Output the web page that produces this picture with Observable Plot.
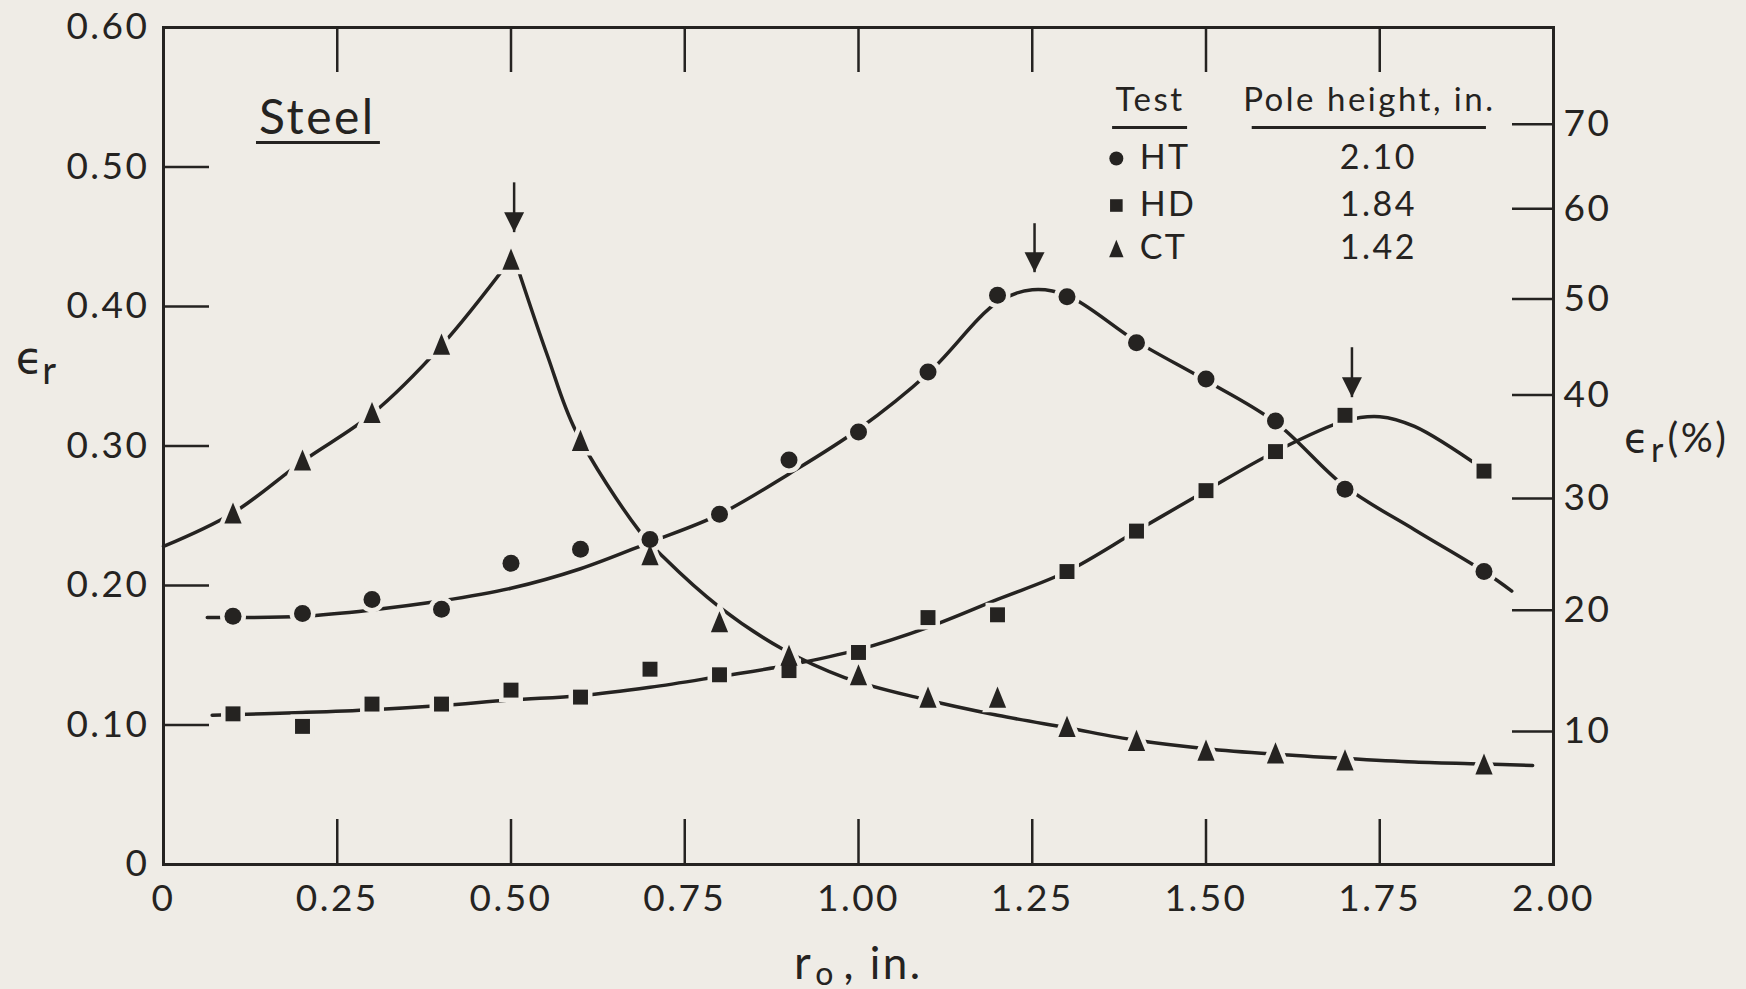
<!DOCTYPE html>
<html><head><meta charset="utf-8">
<script src="https://cdn.jsdelivr.net/npm/d3@7"></script>
<script src="https://cdn.jsdelivr.net/npm/@observablehq/plot@0.6"></script>
<style>
html,body{margin:0;padding:0;background:#efece6;}
#chart svg text{letter-spacing:2.5px;}
</style></head><body><div id="chart"></div>
<script>
// ---- measured points (r_o in inches, true strain eps_r) ----
const rPts = [0.1,0.2,0.3,0.4,0.5,0.6,0.7,0.8,0.9,1.0,1.1,1.2,1.3,1.4,1.5,1.6,1.7,1.9];
const htPts = [0.178,0.180,0.190,0.183,0.216,0.226,0.233,0.251,0.290,0.310,0.353,0.408,0.407,0.374,0.348,0.318,0.269,0.210];
const hdPts = [0.108,0.099,0.115,0.115,0.125,0.120,0.140,0.136,0.139,0.152,0.177,0.179,0.210,0.239,0.268,0.296,0.322,0.282];
const ctPts = [0.252,0.290,0.324,0.373,0.434,0.304,0.222,0.174,0.150,0.136,0.120,0.120,0.099,0.089,0.082,0.080,0.075,0.072];

// ---- faired curves ----
const htCurveR = [0.063,0.2,0.3,0.4,0.5,0.6,0.7,0.8,0.9,1.0,1.1,1.2,1.25,1.3,1.4,1.5,1.6,1.7,1.8,1.9,1.94];
const htCurveE = [0.177,0.178,0.1825,0.189,0.198,0.212,0.231,0.251,0.280,0.312,0.352,0.403,0.412,0.408,0.375,0.347,0.317,0.271,0.240,0.210,0.196];
const hdCurveR = [0.07,0.2,0.3,0.4,0.5,0.6,0.7,0.8,0.9,1.0,1.1,1.2,1.3,1.4,1.5,1.6,1.7,1.75,1.8,1.9];
const hdCurveE = [0.107,0.109,0.111,0.114,0.118,0.121,0.127,0.1348,0.143,0.154,0.170,0.190,0.210,0.239,0.268,0.296,0.318,0.321,0.314,0.283];
const ctLeftR = [0,0.1,0.2,0.3,0.4,0.5];
const ctLeftE = [0.228,0.252,0.289,0.323,0.372,0.434];
const ctRightR = [0.503,0.514,0.553,0.593,0.684,0.72,0.8,0.89,0.98,1.09,1.2,1.3,1.4,1.5,1.6,1.7,1.8,1.9,1.97];
const ctRightE = [0.438,0.421,0.364,0.311,0.2395,0.220,0.1845,0.1546,0.134,0.119,0.107,0.098,0.089,0.083,0.079,0.076,0.0735,0.072,0.071];

// ---- peak arrows ----
const peakR = [0.5045,1.2533,1.71];
const peakTop = [0.489,0.4597,0.3708];
const peakTip = [0.4533,0.4246,0.335];

// ---- ticks / labels ----
const xTickValues = [0,0.25,0.5,0.75,1.0,1.25,1.5,1.75,2.0];
const xTickLabels = ["0","0.25","0.50","0.75","1.00","1.25","1.50","1.75","2.00"];
const xInnerTicks = [0.25,0.5,0.75,1.0,1.25,1.5,1.75];
const yTickValues = [0,0.1,0.2,0.3,0.4,0.5,0.6];
const yTickLabels = ["0","0.10","0.20","0.30","0.40","0.50","0.60"];
const yInnerTicks = [0.1,0.2,0.3,0.4,0.5];
const pctTicks = [10,20,30,40,50,60,70];

// ---- legend ----
const legendTests = ["HT","HD","CT"];
const legendHeights = ["2.10","1.84","1.42"];

const ink = "#252321", bg = "#efece6";
const font = "Lato, 'DejaVu Sans', sans-serif";

const zipPts = (r, e) => r.map((d, i) => ({r: d, e: e[i]}));
const ht = zipPts(rPts, htPts), hd = zipPts(rPts, hdPts), ct = zipPts(rPts, ctPts);
const htC = zipPts(htCurveR, htCurveE), hdC = zipPts(hdCurveR, hdCurveE);
const ctL = zipPts(ctLeftR, ctLeftE), ctR = zipPts(ctRightR, ctRightE);
const peaks = peakR.map((r, i) => ({r, top: peakTop[i], tip: peakTip[i]}));
const pctPos = pctTicks.map(p => Math.log(1 + p / 100));

const triUp = {draw(c, size) { const r = Math.sqrt(size / Math.PI); const w = r * 1.8, h = r * 2.2; c.moveTo(0, -h / 2); c.lineTo(w / 2, h / 2); c.lineTo(-w / 2, h / 2); c.closePath(); }};
const square = {draw(c, size) { const r = Math.sqrt(size / Math.PI); const s = r * 1.8; c.rect(-s / 2, -s / 2, s, s); }};
const triDown = {draw(c, size) { const r = Math.sqrt(size / Math.PI); c.moveTo(0, 0); c.lineTo(r, -2 * r); c.lineTo(-r, -2 * r); c.closePath(); }};

const W = 1746, H = 989, ML = 163, MR = 193, MT = 27, MB = 125;
const FW = W - ML - MR, FH = H - MT - MB;

const halo = (data, symbol, r) => Plot.dot(data, {x: "r", y: "e", symbol, r, fill: bg, stroke: bg, strokeWidth: 9});
const solid = (data, symbol, r) => Plot.dot(data, {x: "r", y: "e", symbol, r, fill: ink, stroke: "none"});
const eps = "\u03f5";
const rowY = [0.5061, 0.4724, 0.4416];

const chart = Plot.plot({
  width: W, height: H,
  marginLeft: ML, marginRight: MR, marginTop: MT, marginBottom: MB,
  x: {domain: [0, 2]},
  y: {domain: [0, 0.6]},
  style: {background: bg, color: ink, fontFamily: font, fontWeight: 400, overflow: "visible"},
  marks: [
    Plot.frame({stroke: ink, strokeWidth: 3}),
    // inward ticks
    Plot.tickX(xInnerTicks, {insetTop: FH - 45, stroke: ink, strokeWidth: 2.5}),
    Plot.tickX(xInnerTicks, {insetBottom: FH - 45, stroke: ink, strokeWidth: 2.5}),
    Plot.tickY(yInnerTicks, {insetRight: FW - 46, stroke: ink, strokeWidth: 2.5}),
    Plot.tickY(pctPos, {insetLeft: FW - 41, stroke: ink, strokeWidth: 2.5}),
    // tick labels
    Plot.axisX({anchor: "bottom", ticks: xTickValues, tickFormat: d => xTickLabels[xTickValues.indexOf(d)], tickSize: 0, tickPadding: 20, fontSize: 37, label: null}),
    Plot.axisY({anchor: "left", ticks: yTickValues, tickFormat: d => yTickLabels[yTickValues.indexOf(d)], tickSize: 0, tickPadding: 14, fontSize: 37, label: null}),
    Plot.axisY({anchor: "right", ticks: pctPos, tickFormat: d => String(Math.round((Math.exp(d) - 1) * 100)), tickSize: 0, tickPadding: 10, fontSize: 37, label: null}),
    // faired curves
    Plot.line(htC, {x: "r", y: "e", curve: "catmull-rom", stroke: ink, strokeWidth: 3.5}),
    Plot.line(hdC, {x: "r", y: "e", curve: "catmull-rom", stroke: ink, strokeWidth: 3.5}),
    Plot.line(ctL, {x: "r", y: "e", curve: "catmull-rom", stroke: ink, strokeWidth: 3.5}),
    Plot.line(ctR, {x: "r", y: "e", curve: "catmull-rom", stroke: ink, strokeWidth: 3.5}),
    // halos then markers
    halo(ht, "circle", 8.5), halo(hd, square, 8.3), halo(ct, triUp, 9.6),
    solid(ht, "circle", 8.5), solid(hd, square, 8.3), solid(ct, triUp, 9.6),
    // peak arrows
    Plot.link(peaks, {x1: "r", x2: "r", y1: "top", y2: "tip", stroke: ink, strokeWidth: 2.5}),
    Plot.dot(peaks, {x: "r", y: "tip", symbol: triDown, r: 10, fill: ink, stroke: "none"}),
    // Steel label
    Plot.text(["Steel"], {x: 0.2214, y: 0.5348, fontSize: 48, fill: ink, textAnchor: "middle", lineAnchor: "middle"}),
    Plot.ruleY([0.5176], {x1: 0.1338, x2: 0.3121, stroke: ink, strokeWidth: 3}),
    // legend
    Plot.text(["Test"], {x: 1.4196, y: 0.5477, fontSize: 33, fill: ink, textAnchor: "middle", lineAnchor: "middle"}),
    Plot.text(["Pole height, in."], {x: 1.735, y: 0.5477, fontSize: 33, fill: ink, textAnchor: "middle", lineAnchor: "middle"}),
    Plot.ruleY([0.5283], {x1: 1.3656, x2: 1.4735, stroke: ink, strokeWidth: 3}),
    Plot.ruleY([0.5283], {x1: 1.5665, x2: 1.9035, stroke: ink, strokeWidth: 3}),
    ...legendTests.map((t, i) => Plot.text([t], {x: 1.4045, y: rowY[i], fontSize: 34, fill: ink, textAnchor: "start", lineAnchor: "middle"})),
    ...legendHeights.map((t, i) => Plot.text([t], {x: 1.748, y: rowY[i], fontSize: 34, fill: ink, textAnchor: "middle", lineAnchor: "middle"})),
    Plot.dot([0], {x: 1.371, y: rowY[0], symbol: "circle", r: 7, fill: ink, stroke: "none"}),
    Plot.dot([0], {x: 1.371, y: rowY[1], symbol: square, r: 7, fill: ink, stroke: "none"}),
    Plot.dot([0], {x: 1.371, y: rowY[2], symbol: triUp, r: 8, fill: ink, stroke: "none"}),
    // axis titles
    Plot.text([eps], {frameAnchor: "top-left", dx: -133, dy: 331, fontSize: 44, fill: ink, textAnchor: "middle", lineAnchor: "middle", fontFamily: "'DejaVu Sans', sans-serif"}),
    Plot.text(["r"], {frameAnchor: "top-left", dx: -113, dy: 344, fontSize: 38, fill: ink, textAnchor: "middle", lineAnchor: "middle"}),
    Plot.text([eps], {frameAnchor: "top-right", dx: 84, dy: 412, fontSize: 40, fill: ink, textAnchor: "middle", lineAnchor: "middle", fontFamily: "'DejaVu Sans', sans-serif"}),
    Plot.text(["r"], {frameAnchor: "top-right", dx: 105, dy: 424, fontSize: 34, fill: ink, textAnchor: "middle", lineAnchor: "middle"}),
    Plot.text(["(%)"], {frameAnchor: "top-right", dx: 114, dy: 412, fontSize: 40, fill: ink, textAnchor: "start", lineAnchor: "middle"}),
    Plot.text(["r"], {frameAnchor: "bottom-left", dx: 640, dy: 100, fontSize: 46, fill: ink, textAnchor: "middle", lineAnchor: "middle"}),
    Plot.text(["o"], {frameAnchor: "bottom-left", dx: 662, dy: 110, fontSize: 32, fill: ink, textAnchor: "middle", lineAnchor: "middle"}),
    Plot.text([", in."], {frameAnchor: "bottom-left", dx: 680, dy: 100, fontSize: 44, fill: ink, textAnchor: "start", lineAnchor: "middle"})
  ]
});
document.getElementById("chart").appendChild(chart);
</script></body></html>
